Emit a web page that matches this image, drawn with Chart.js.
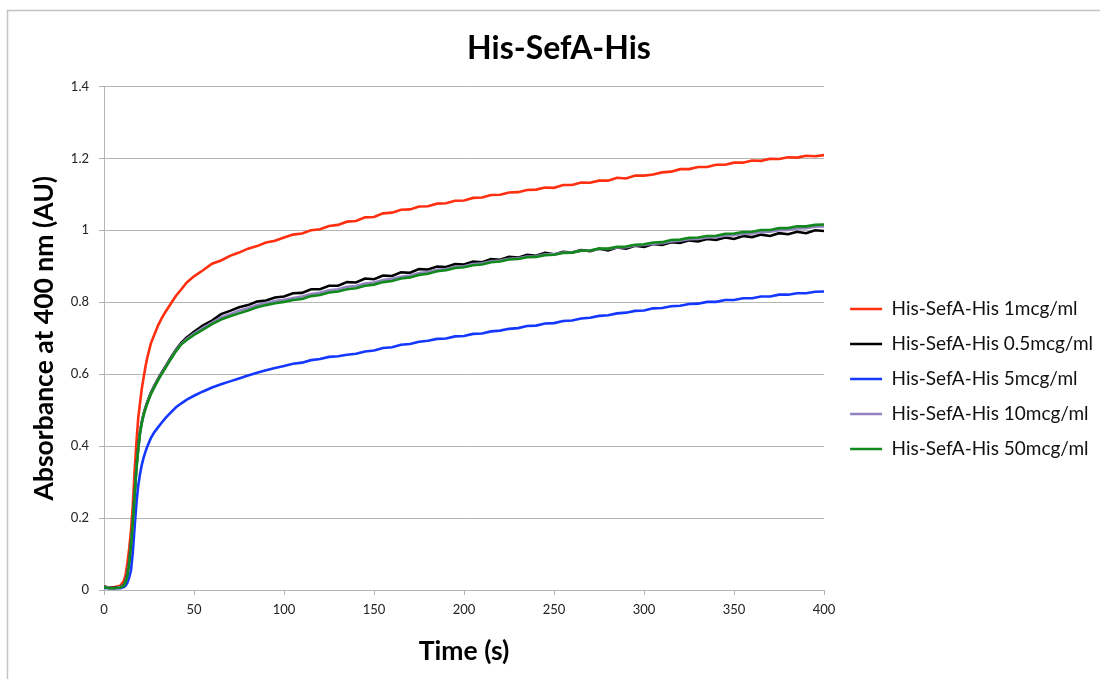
<!DOCTYPE html>
<html>
<head>
<meta charset="utf-8">
<title>His-SefA-His</title>
<script src="https://cdn.jsdelivr.net/npm/chart.js@4.4.1/dist/chart.umd.min.js"></script>
<style>
  html, body { margin: 0; padding: 0; background: #fff; }
  canvas { display: block; }
</style>
</head>
<body>
<canvas id="kinetics" width="1100" height="679"></canvas>
<script>
// Time points (s)
const times = [
  0, 3, 6, 9, 11, 12, 13, 14, 15, 16, 17, 18, 19, 20, 21, 22, 23, 24, 26, 28, 30, 32, 34, 37, 40, 43, 46, 50,
  55, 60, 65, 70, 75, 80, 85, 90, 95, 100,
  105, 110, 115, 120, 125, 130, 135, 140, 145, 150, 155, 160, 165, 170, 175, 180, 185, 190, 195, 200,
  205, 210, 215, 220, 225, 230, 235, 240, 245, 250, 255, 260, 265, 270, 275, 280, 285, 290, 295, 300,
  305, 310, 315, 320, 325, 330, 335, 340, 345, 350, 355, 360, 365, 370, 375, 380, 385, 390, 395, 400
];

// Absorbance at 400 nm (AU), one list per concentration
const conc1 = [
  0.010, 0.006, 0.008, 0.012, 0.025, 0.042, 0.075, 0.115, 0.165, 0.235, 0.330, 0.410, 0.477, 0.520, 0.560, 0.590, 0.620, 0.645, 0.685, 0.710, 0.735, 0.755, 0.772, 0.795, 0.818, 0.836, 0.855, 0.872,
  0.889, 0.907, 0.916, 0.929, 0.938, 0.949, 0.956, 0.966, 0.971, 0.980,
  0.988, 0.991, 1.000, 1.003, 1.012, 1.015, 1.024, 1.026, 1.036, 1.037, 1.047, 1.049, 1.057, 1.058, 1.066, 1.067, 1.074, 1.075, 1.082, 1.083,
  1.090, 1.091, 1.098, 1.099, 1.105, 1.106, 1.112, 1.113, 1.119, 1.118, 1.126, 1.126, 1.133, 1.132, 1.138, 1.138, 1.146, 1.144, 1.152, 1.152,
  1.155, 1.161, 1.163, 1.170, 1.170, 1.176, 1.176, 1.182, 1.182, 1.188, 1.188, 1.194, 1.193, 1.199, 1.198, 1.203, 1.202, 1.207, 1.206, 1.209
];
const conc05 = [
  0.010, 0.006, 0.006, 0.008, 0.014, 0.025, 0.045, 0.080, 0.130, 0.190, 0.265, 0.340, 0.395, 0.440, 0.468, 0.490, 0.507, 0.522, 0.548, 0.568, 0.587, 0.604, 0.620, 0.645, 0.668, 0.688, 0.702, 0.718,
  0.736, 0.749, 0.767, 0.776, 0.786, 0.792, 0.802, 0.805, 0.813, 0.816,
  0.825, 0.826, 0.836, 0.836, 0.846, 0.846, 0.856, 0.855, 0.866, 0.864, 0.874, 0.873, 0.883, 0.882, 0.892, 0.891, 0.899, 0.898, 0.906, 0.905,
  0.913, 0.911, 0.920, 0.918, 0.926, 0.924, 0.932, 0.929, 0.937, 0.933, 0.940, 0.938, 0.945, 0.942, 0.949, 0.944, 0.952, 0.949, 0.957, 0.954,
  0.962, 0.959, 0.967, 0.965, 0.972, 0.969, 0.976, 0.973, 0.980, 0.976, 0.984, 0.981, 0.988, 0.984, 0.992, 0.989, 0.996, 0.992, 1.000, 0.998
];
const conc5 = [
  0.006, 0.005, 0.005, 0.005, 0.008, 0.012, 0.020, 0.035, 0.055, 0.105, 0.175, 0.240, 0.290, 0.322, 0.348, 0.368, 0.384, 0.398, 0.422, 0.439, 0.452, 0.465, 0.477, 0.493, 0.508, 0.519, 0.529, 0.540,
  0.552, 0.563, 0.572, 0.580, 0.588, 0.596, 0.604, 0.611, 0.617, 0.623,
  0.629, 0.632, 0.639, 0.642, 0.648, 0.650, 0.654, 0.657, 0.663, 0.666, 0.673, 0.675, 0.682, 0.684, 0.690, 0.693, 0.698, 0.699, 0.705, 0.706,
  0.712, 0.713, 0.719, 0.721, 0.726, 0.728, 0.734, 0.735, 0.741, 0.742, 0.748, 0.749, 0.755, 0.757, 0.762, 0.764, 0.769, 0.771, 0.776, 0.777,
  0.783, 0.784, 0.789, 0.790, 0.795, 0.796, 0.801, 0.801, 0.806, 0.806, 0.811, 0.811, 0.816, 0.816, 0.821, 0.821, 0.825, 0.825, 0.829, 0.830
];
const conc10 = [
  0.009, 0.006, 0.005, 0.008, 0.013, 0.024, 0.043, 0.077, 0.127, 0.188, 0.262, 0.338, 0.392, 0.437, 0.466, 0.488, 0.505, 0.520, 0.546, 0.566, 0.585, 0.602, 0.618, 0.643, 0.666, 0.685, 0.698, 0.713,
  0.729, 0.743, 0.758, 0.767, 0.776, 0.783, 0.792, 0.797, 0.803, 0.807,
  0.812, 0.816, 0.823, 0.826, 0.833, 0.836, 0.843, 0.845, 0.852, 0.855, 0.862, 0.865, 0.871, 0.874, 0.881, 0.884, 0.890, 0.892, 0.898, 0.900,
  0.906, 0.908, 0.914, 0.916, 0.921, 0.922, 0.927, 0.928, 0.933, 0.933, 0.938, 0.939, 0.943, 0.944, 0.948, 0.948, 0.952, 0.953, 0.958, 0.959,
  0.963, 0.964, 0.969, 0.971, 0.975, 0.976, 0.980, 0.981, 0.985, 0.986, 0.990, 0.991, 0.995, 0.996, 1.000, 1.001, 1.005, 1.006, 1.010, 1.011
];
const conc50 = [
  0.008, 0.005, 0.005, 0.007, 0.012, 0.022, 0.040, 0.074, 0.124, 0.185, 0.260, 0.335, 0.390, 0.435, 0.464, 0.486, 0.503, 0.518, 0.544, 0.564, 0.583, 0.600, 0.616, 0.641, 0.664, 0.683, 0.695, 0.709,
  0.724, 0.739, 0.752, 0.761, 0.769, 0.777, 0.786, 0.792, 0.797, 0.801,
  0.806, 0.809, 0.817, 0.820, 0.827, 0.830, 0.836, 0.839, 0.846, 0.849, 0.856, 0.859, 0.866, 0.869, 0.876, 0.879, 0.886, 0.889, 0.895, 0.897,
  0.903, 0.905, 0.911, 0.913, 0.919, 0.920, 0.925, 0.926, 0.931, 0.932, 0.937, 0.938, 0.943, 0.944, 0.949, 0.949, 0.954, 0.955, 0.960, 0.961,
  0.966, 0.967, 0.973, 0.974, 0.979, 0.980, 0.984, 0.985, 0.990, 0.991, 0.995, 0.996, 1.001, 1.001, 1.006, 1.006, 1.011, 1.011, 1.015, 1.016
];

const seriesNames = [
  "His-SefA-His 1mcg/ml",
  "His-SefA-His 0.5mcg/ml",
  "His-SefA-His 5mcg/ml",
  "His-SefA-His 10mcg/ml",
  "His-SefA-His 50mcg/ml"
];
const seriesValues = [conc1, conc05, conc5, conc10, conc50];
const seriesColors = ["#ff2f0f", "#000000", "#1438ff", "#9483c2", "#12891c"];
// Excel draws later series on top; Chart.js puts lower "order" on top
const drawOrder = [5, 4, 3, 2, 1];

Chart.defaults.font.family = "Lato, 'Open Sans', sans-serif";
Chart.defaults.color = "#1a1a1a";

// Thin gray frame around the chart object (left and top edges show in the crop)
const framePlugin = {
  id: "framePlugin",
  beforeDraw(chart) {
    const { ctx } = chart;
    ctx.save();
    ctx.strokeStyle = "#c4c4c4";
    ctx.lineWidth = 1.5;
    ctx.beginPath();
    ctx.moveTo(7.5, chart.height);
    ctx.lineTo(7.5, 10.5);
    ctx.lineTo(chart.width, 10.5);
    ctx.stroke();
    ctx.restore();
  }
};

const datasets = seriesNames.map((name, i) => ({
  label: name,
  data: times.map((t, j) => ({ x: t, y: seriesValues[i][j] })),
  borderColor: seriesColors[i],
  backgroundColor: seriesColors[i],
  borderWidth: 2.6,
  pointRadius: 0,
  tension: 0,
  fill: false,
  order: drawOrder[i],
  yAxisID: "y"
}));

const gridGray = "#b5b5b5";

new Chart(document.getElementById("kinetics").getContext("2d"), {
  type: "line",
  data: { datasets },
  options: {
    responsive: false,
    animation: false,
    parsing: false,
    layout: { padding: { left: 15, right: -3, top: 0, bottom: 9 } },
    scales: {
      x: {
        type: "linear",
        min: 0,
        max: 400,
        ticks: { stepSize: 50, color: "#222", font: { size: 13 }, padding: 7, maxRotation: 0 },
        grid: { drawOnChartArea: false, drawTicks: true, tickLength: 5, color: gridGray },
        border: { color: gridGray, width: 1 },
        title: {
          display: true,
          text: "Time (s)",
          color: "#000",
          font: { size: 26.5, weight: "bold" },
          padding: { top: 0, bottom: 3 }
        },
        afterFit(scale) { scale.height = 80; }
      },
      y: {
        type: "linear",
        position: "left",
        min: 0,
        max: 1.4,
        ticks: {
          stepSize: 0.2,
          color: "#222",
          font: { size: 13 },
          padding: 10,
          callback: v => String(Number(v.toFixed(1)))
        },
        grid: { color: gridGray, tickLength: 5, lineWidth: 1 },
        border: { color: gridGray, width: 1 },
        title: {
          display: true,
          text: "Absorbance at 400 nm (AU)",
          color: "#000",
          font: { size: 26.5, weight: "bold" },
          padding: { top: 14, bottom: 0 }
        },
        afterFit(scale) { scale.width = 89; }
      },
      // empty spacer between the plot and the legend
      gap: {
        type: "linear",
        position: "right",
        display: true,
        grid: { display: false },
        ticks: { display: false },
        border: { display: false },
        afterFit(scale) { scale.width = 10; }
      }
    },
    plugins: {
      title: {
        display: true,
        text: "His-SefA-His",
        color: "#000",
        font: { size: 32, weight: "bold" },
        padding: { top: 29, bottom: 19 }
      },
      legend: {
        position: "right",
        maxWidth: 320,
        // blank legend title only pushes the entries down to where they sit in the original
        title: { display: true, text: " ", font: { size: 10 }, padding: { top: 0, bottom: 76 } },
        labels: {
          usePointStyle: true,
          pointStyle: "line",
          pointStyleWidth: 32,
          padding: 16,
          color: "#111",
          font: { size: 19 },
          sort: (a, b) => a.datasetIndex - b.datasetIndex
        }
      },
      tooltip: { enabled: false }
    }
  },
  plugins: [framePlugin]
});
</script>
</body>
</html>
